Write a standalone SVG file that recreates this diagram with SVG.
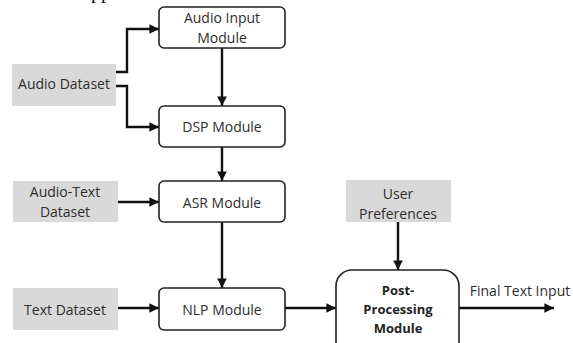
<svg xmlns="http://www.w3.org/2000/svg" width="573" height="343" viewBox="0 0 573 343">
<style>
.box{fill:#fff;stroke:#222;stroke-width:1.6}
.data{fill:#d9d9d9}
.t{font-family:"Open Sans","Liberation Sans",sans-serif;font-size:14px;fill:#2e2e2e;text-anchor:middle;dominant-baseline:central}
.b{font-weight:bold;fill:#222;font-size:13px}
.c{fill:none;stroke:#111;stroke-width:2.4}
</style>
<defs>
<marker id="ah" viewBox="0 0 10 10" refX="10" refY="5" markerWidth="4" markerHeight="4" orient="auto" markerUnits="strokeWidth">
<path d="M0,0 L10,5 L0,10 z" fill="#111"/>
</marker>
</defs>
<rect width="573" height="343" fill="#fff"/>
<text x="91" y="-2" font-family="Liberation Serif,serif" font-size="20" fill="#111">pp</text>
<g id="connectors">
<path class="c" d="M116,72 H127 V29 H159" marker-end="url(#ah)"/>
<path class="c" d="M116,86 H127 V127 H159" marker-end="url(#ah)"/>
<path class="c" d="M222,48 V106" marker-end="url(#ah)"/>
<path class="c" d="M222,147 V181" marker-end="url(#ah)"/>
<path class="c" d="M118,202 H159" marker-end="url(#ah)"/>
<path class="c" d="M222,222 V288" marker-end="url(#ah)"/>
<path class="c" d="M118,308 H159" marker-end="url(#ah)"/>
<path class="c" d="M285,308 H336" marker-end="url(#ah)"/>
<path class="c" d="M398,222 V270" marker-end="url(#ah)"/>
<path class="c" d="M459,308 H554" marker-end="url(#ah)"/>
</g>
<g id="audio-dataset">
<rect class="data" x="12" y="64" width="104" height="42"/>
<text class="t" x="64" y="83">Audio Dataset</text>
</g>
<g id="audio-text-dataset">
<rect class="data" x="13" y="181" width="105" height="41"/>
<text class="t" x="65" y="191">Audio-Text</text>
<text class="t" x="65" y="211">Dataset</text>
</g>
<g id="text-dataset">
<rect class="data" x="13" y="288" width="105" height="42"/>
<text class="t" x="65" y="309">Text Dataset</text>
</g>
<g id="user-preferences">
<rect class="data" x="346" y="180" width="105" height="42"/>
<text class="t" x="398" y="193">User</text>
<text class="t" x="398" y="213">Preferences</text>
</g>
<g id="audio-input">
<rect class="box" x="159" y="7" width="126" height="41" rx="5"/>
<text class="t" x="222" y="17">Audio Input</text>
<text class="t" x="222" y="37">Module</text>
</g>
<g id="dsp">
<rect class="box" x="159" y="106" width="126" height="41" rx="5"/>
<text class="t" x="222" y="126">DSP Module</text>
</g>
<g id="asr">
<rect class="box" x="159" y="181" width="126" height="41" rx="5"/>
<text class="t" x="222" y="202">ASR Module</text>
</g>
<g id="nlp">
<rect class="box" x="159" y="288" width="126" height="42" rx="5"/>
<text class="t" x="222" y="309">NLP Module</text>
</g>
<g id="post-processing">
<rect class="box" x="336" y="270" width="123" height="90" rx="16"/>
<text class="t b" x="398" y="290">Post-</text>
<text class="t b" x="398" y="309">Processing</text>
<text class="t b" x="398" y="328">Module</text>
</g>
<g id="final-label">
<text class="t" x="520" y="290">Final Text Input</text>
</g>
</svg>
